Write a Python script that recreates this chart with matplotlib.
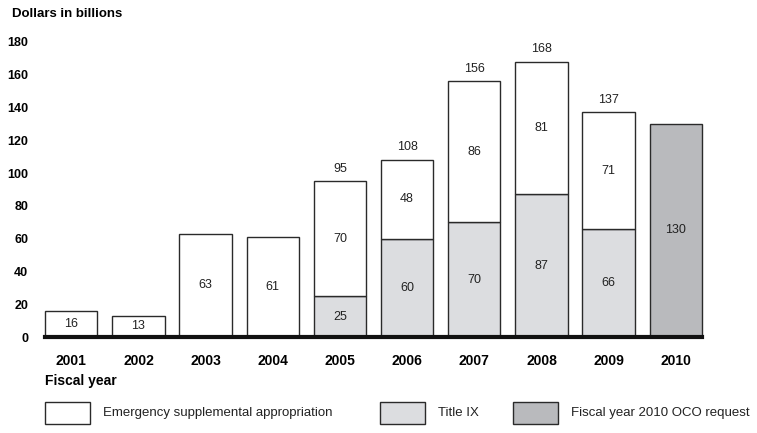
import matplotlib.pyplot as plt

years = ['2001', '2002', '2003', '2004', '2005', '2006', '2007', '2008', '2009', '2010']
title_ix = [0, 0, 0, 0, 25, 60, 70, 87, 66, 0]
emergency = [16, 13, 63, 61, 70, 48, 86, 81, 71, 0]
oco_request = [0, 0, 0, 0, 0, 0, 0, 0, 0, 130]
totals = ['', '', '', '', '95', '108', '156', '168', '137', '']

c_white = '#ffffff'
c_light = '#dcdde0'
c_dark = '#b9babd'
edge = '#2a2a2a'

plt.rcParams['font.family'] = ['Liberation Sans', 'DejaVu Sans']

fig = plt.figure(figsize=(7.57, 4.33), dpi=100)
ax = fig.add_axes([45 / 757, 1 - 337 / 433, 657 / 757, 295 / 433])

x = list(range(len(years)))
w = 0.78

# stacked bars
ax.bar(x, title_ix, w, color=c_light, edgecolor=edge, linewidth=1.0)
bottoms = [t for t in title_ix]
ax.bar(x, emergency, w, bottom=bottoms, color=c_white, edgecolor=edge, linewidth=1.0)
ax.bar(x, oco_request, w, color=c_dark, edgecolor=edge, linewidth=1.0)

# hide zero-height bars, keep edge lines from being clipped
for p in ax.patches:
    p.set_clip_on(False)
    if p.get_height() == 0:
        p.set_visible(False)

# inner labels
for i in x:
    if title_ix[i]:
        ax.text(i, title_ix[i] / 2, str(title_ix[i]), ha='center', va='center', fontsize=9, color='#222222')
    if emergency[i]:
        ax.text(i, title_ix[i] + emergency[i] / 2, str(emergency[i]), ha='center', va='center',
                fontsize=9, color='#222222')
    if oco_request[i]:
        ax.text(i, oco_request[i] / 2, str(oco_request[i]), ha='center', va='center', fontsize=9, color='#222222')
    if totals[i]:
        top = title_ix[i] + emergency[i]
        ax.text(i, top + 4, totals[i], ha='center', va='bottom', fontsize=9, color='#222222')

ax.set_xlim(-w / 2, len(years) - 1 + w / 2)
ax.set_ylim(0, 180)
ax.set_yticks(range(0, 181, 20))
ax.set_yticklabels([str(v) for v in range(0, 181, 20)], fontweight='bold', fontsize=9)
ax.set_xticks(x)
ax.set_xticklabels(years, fontweight='bold', fontsize=10)
ax.tick_params(axis='y', length=0, pad=12)
ax.tick_params(axis='x', length=0, pad=12)
for s in ['top', 'right', 'left']:
    ax.spines[s].set_visible(False)
ax.spines['bottom'].set_linewidth(3)
ax.spines['bottom'].set_color('#111111')
ax.spines['bottom'].set_zorder(5)

fig.text(12 / 757, 1 - 14 / 433, 'Dollars in billions', fontweight='bold', fontsize=9.5, va='center')
fig.text(45 / 757, 1 - 381 / 433, 'Fiscal year', fontweight='bold', fontsize=10, va='center')

# legend
items = [(45, c_white, 'Emergency supplemental appropriation'),
         (380, c_light, 'Title IX'),
         (513, c_dark, 'Fiscal year 2010 OCO request')]
for px, col, lab in items:
    r = plt.Rectangle((px / 757, 1 - 424 / 433), 45 / 757, 22 / 433, transform=fig.transFigure,
                      facecolor=col, edgecolor=edge, linewidth=1.0)
    fig.patches.append(r)
    fig.text((px + 58) / 757, 1 - 413 / 433, lab, fontsize=9.5, va='center', color='#222222')

plt.savefig('out.png', dpi=100)
